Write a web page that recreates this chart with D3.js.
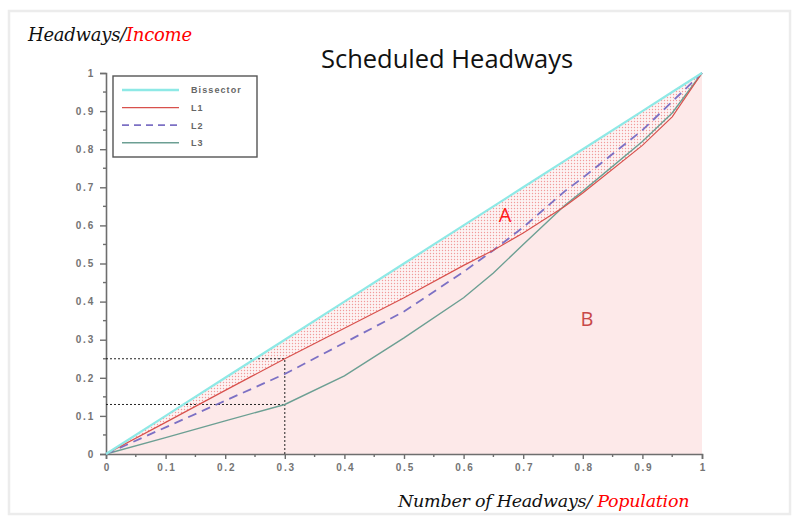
<!DOCTYPE html>
<html>
<head>
<meta charset="utf-8">
<script src="https://cdn.jsdelivr.net/npm/d3@7"></script>
<style>
  body { margin: 0; background: #fff; }
  svg { display: block; }
</style>
</head>
<body>
<div id="chart"></div>
<script>
// values
const popShare = [0, 0.1, 0.2, 0.3, 0.4, 0.5, 0.6, 0.65, 0.7, 0.77, 0.8, 0.9, 0.95, 1];
const L1 = [0, 0.083, 0.167, 0.25, 0.33, 0.41, 0.495, 0.535, 0.58, 0.65, 0.685, 0.81, 0.885, 1];
const L2 = [0, 0.07, 0.14, 0.21, 0.292, 0.374, 0.478, 0.535, 0.595, 0.69, 0.725, 0.85, 0.925, 1];
const L3 = [0, 0.043, 0.087, 0.13, 0.205, 0.305, 0.41, 0.475, 0.55, 0.653, 0.69, 0.82, 0.895, 1];
const tickValues = [0, 0.1, 0.2, 0.3, 0.4, 0.5, 0.6, 0.7, 0.8, 0.9, 1];
const legendNames = ["Bissector", "L1", "L2", "L3"];
const guideX = 0.3;
const guideY = [0.25, 0.13];

const W = 792, H = 516;
const svg = d3.select("#chart").append("svg")
    .attr("width", W).attr("height", H);

// outer frame
svg.append("rect")
    .attr("x", 9).attr("y", 11).attr("width", 781).attr("height", 503)
    .attr("fill", "none").attr("stroke", "#ececec").attr("stroke-width", 2.5);

const x = d3.scaleLinear().domain([0, 1]).range([106, 702]);
const y = d3.scaleLinear().domain([0, 1]).range([454, 73]);

// dotted pattern for area A
const defs = svg.append("defs");
const pat = defs.append("pattern")
    .attr("id", "dots").attr("patternUnits", "userSpaceOnUse")
    .attr("width", 3).attr("height", 3);
pat.append("rect").attr("width", 3).attr("height", 3).attr("fill", "#fdf3f3");
pat.append("circle").attr("cx", 1.5).attr("cy", 1.5).attr("r", 0.7).attr("fill", "#f29a9a");

const pts = popShare.map((p, i) => ({p, l1: L1[i], l2: L2[i], l3: L3[i]}));

// B: under L1
svg.append("path")
    .datum(pts)
    .attr("d", d3.area().x(d => x(d.p)).y0(y(0)).y1(d => y(d.l1)))
    .attr("fill", "#fde9e9");

// A: between bisector and L1
svg.append("path")
    .datum(pts)
    .attr("d", d3.area().x(d => x(d.p)).y0(d => y(d.l1)).y1(d => y(d.p)))
    .attr("fill", "url(#dots)");

// axes
const yAxis = d3.axisLeft(y).tickValues(tickValues).tickSize(6).tickFormat(d3.format("~g"));
const xAxis = d3.axisBottom(x).tickValues(tickValues).tickSize(5).tickFormat(d3.format("~g"));
const minor = d3.range(0.05, 1, 0.1);

const gy = svg.append("g").attr("transform", `translate(${x(0)},0)`).call(yAxis);
const gx = svg.append("g").attr("transform", `translate(0,${y(0)})`).call(xAxis);

[gx, gy].forEach(g => {
    g.select(".domain").attr("stroke", "#6e6e6e").attr("stroke-width", 1.6);
    g.selectAll(".tick line").attr("stroke", "#6e6e6e").attr("stroke-width", 1.4);
    g.selectAll(".tick text")
        .attr("fill", "#747474")
        .style("font-family", "Liberation Sans, Arial, sans-serif")
        .style("font-weight", "bold")
        .style("font-size", "10px")
        .style("letter-spacing", "1.8px");
});
gx.selectAll(".tick text").attr("dy", "0.85em").attr("dx", "0.9px");
gy.selectAll(".tick text").attr("dx", "-0.2em");

// minor ticks
svg.append("g").selectAll("line").data(minor).join("line")
    .attr("x1", x(0) - 3).attr("x2", x(0))
    .attr("y1", d => y(d)).attr("y2", d => y(d))
    .attr("stroke", "#6e6e6e").attr("stroke-width", 1.4);
svg.append("g").selectAll("line").data(minor).join("line")
    .attr("x1", d => x(d)).attr("x2", d => x(d))
    .attr("y1", y(0)).attr("y2", y(0) + 3)
    .attr("stroke", "#6e6e6e").attr("stroke-width", 1.4);

// guide lines
const guide = svg.append("g").attr("stroke", "#222").attr("stroke-width", 1)
    .attr("stroke-dasharray", "2,2").attr("fill", "none");
guide.append("line")
    .attr("x1", x(guideX)).attr("x2", x(guideX))
    .attr("y1", y(0)).attr("y2", y(guideY[0]));
guideY.forEach(v => {
    guide.append("line")
        .attr("x1", x(0)).attr("x2", x(guideX))
        .attr("y1", y(v)).attr("y2", y(v));
});

// curves
const lineOf = key => d3.line().x(d => x(d.p)).y(d => y(d[key]));
svg.append("path").datum(pts).attr("d", lineOf("l3"))
    .attr("fill", "none").attr("stroke", "#6c9f93").attr("stroke-width", 1.4);
svg.append("path").datum(pts).attr("d", lineOf("l2"))
    .attr("fill", "none").attr("stroke", "#7c70c4").attr("stroke-width", 1.8)
    .attr("stroke-dasharray", "9,6");
svg.append("path").datum(pts).attr("d", lineOf("l1"))
    .attr("fill", "none").attr("stroke", "#d8504c").attr("stroke-width", 1.2);
svg.append("path").datum(pts).attr("d", lineOf("p"))
    .attr("fill", "none").attr("stroke", "#8ee9e6").attr("stroke-width", 2.2);

// legend
const legendStyles = [
    {stroke: "#8ee9e6", w: 2.5, dash: null},
    {stroke: "#d8504c", w: 1.2, dash: null},
    {stroke: "#7c70c4", w: 1.8, dash: "7,5"},
    {stroke: "#6c9f93", w: 1.6, dash: null}
];
const lg = svg.append("g");
lg.append("rect").attr("x", 113).attr("y", 76).attr("width", 144).attr("height", 81)
    .attr("fill", "#fff").attr("stroke", "#555").attr("stroke-width", 1.4);
legendNames.forEach((name, i) => {
    const ly = 90 + i * 17.6;
    lg.append("line").attr("x1", 122).attr("x2", 179).attr("y1", ly).attr("y2", ly)
        .attr("stroke", legendStyles[i].stroke).attr("stroke-width", legendStyles[i].w)
        .attr("stroke-dasharray", legendStyles[i].dash);
    lg.append("text").attr("x", 191).attr("y", ly + 3.3).text(name)
        .attr("fill", "#666")
        .style("font-family", "Liberation Sans, Arial, sans-serif")
        .style("font-weight", "bold").style("font-size", "9px")
        .style("letter-spacing", "1.1px");
});

// titles and labels
svg.append("text").attr("x", 447).attr("y", 68).attr("text-anchor", "middle")
    .style("font-family", "Open Sans, sans-serif").style("font-size", "25.5px")
    .attr("fill", "#111").text("Scheduled Headways");

const yl = svg.append("text").attr("x", 28).attr("y", 41)
    .style("font-family", "DejaVu Serif, serif").style("font-style", "italic")
    .style("font-size", "18px").style("letter-spacing", "-0.25px");
yl.append("tspan").attr("fill", "#111").text("Headways/");
yl.append("tspan").attr("fill", "#ff0000").text("Income");

const xl = svg.append("text").attr("x", 398).attr("y", 507)
    .style("font-family", "DejaVu Serif, serif").style("font-style", "italic")
    .style("font-size", "17.5px").style("letter-spacing", "-0.25px");
xl.append("tspan").attr("fill", "#111").text("Number of Headways/ ");
xl.append("tspan").attr("fill", "#ff0000").text("Population");

svg.append("text").attr("x", 505).attr("y", 222).attr("text-anchor", "middle")
    .style("font-family", "Open Sans, sans-serif").style("font-size", "20px")
    .attr("fill", "#ff1a1a").text("A");
svg.append("text").attr("x", 587).attr("y", 326).attr("text-anchor", "middle")
    .style("font-family", "Open Sans, sans-serif").style("font-size", "20px")
    .attr("fill", "#c84848").text("B");
</script>
</body>
</html>
